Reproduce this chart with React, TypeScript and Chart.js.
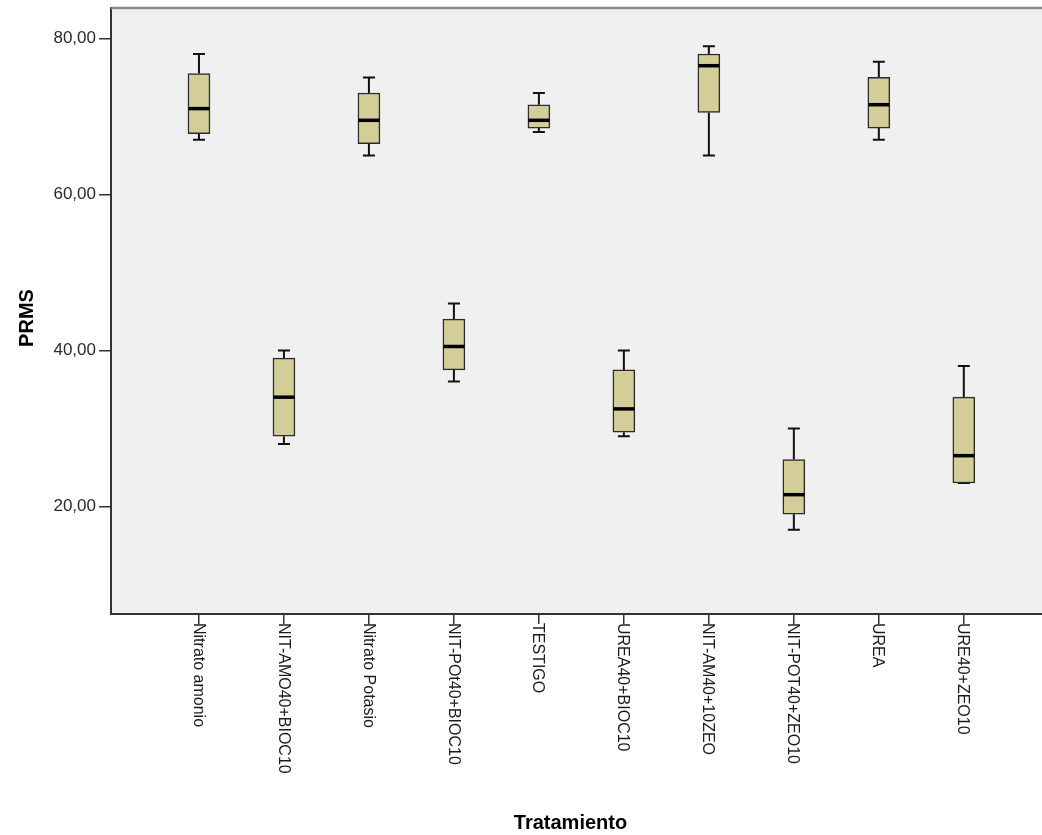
import React, { useEffect, useRef } from "react";
import { Chart, registerables } from "chart.js";

Chart.register(...registerables);

const categories = [
  "Nitrato amonio",
  "NIT-AMO40+BIOC10",
  "Nitrato Potasio",
  "NIT-POt40+BIOC10",
  "TESTIGO",
  "UREA40+BIOC10",
  "NIT-AM40+10ZEO",
  "NIT-POT40+ZEO10",
  "UREA",
  "URE40+ZEO10",
];
const minValues = [67, 28, 65, 36, 68, 29, 65, 17, 67, 23];
const q1Values = [67.8, 29, 66.5, 37.5, 68.5, 29.5, 70.5, 19, 68.5, 23];
const medianValues = [71, 34, 69.5, 40.5, 69.5, 32.5, 76.5, 21.5, 71.5, 26.5];
const q3Values = [75.5, 39, 73, 44, 71.5, 37.5, 78, 26, 75, 34];
const maxValues = [78, 40, 75, 46, 73, 40, 79, 30, 77, 38];
const yTicks = [20, 40, 60, 80];

const FONT = "'Liberation Sans', Arial, sans-serif";

export default function App() {
  const canvasRef = useRef<HTMLCanvasElement | null>(null);

  useEffect(() => {
    const canvas = canvasRef.current;
    if (!canvas) return;

    const boxPlugin = {
      id: "boxPlugin",
      beforeDraw(chart: any) {
        const { ctx, chartArea } = chart;
        ctx.save();
        ctx.fillStyle = "#ffffff";
        ctx.fillRect(0, 0, chart.width, chart.height);
        ctx.fillStyle = "#f0f0f0";
        ctx.fillRect(chartArea.left, chartArea.top, chartArea.right - chartArea.left, chartArea.bottom - chartArea.top);
        ctx.restore();
      },
      beforeDatasetsDraw(chart: any) {
        const { ctx } = chart;
        const xs = chart.scales.x;
        const ys = chart.scales.y;
        ctx.save();
        ctx.strokeStyle = "#111111";
        ctx.lineWidth = 2;
        for (let i = 0; i < categories.length; i++) {
          const x = xs.getPixelForValue(i);
          const yMin = ys.getPixelForValue(minValues[i]);
          const yMax = ys.getPixelForValue(maxValues[i]);
          const yQ1 = ys.getPixelForValue(q1Values[i]);
          const yQ3 = ys.getPixelForValue(q3Values[i]);
          ctx.beginPath();
          ctx.moveTo(x, yQ3);
          ctx.lineTo(x, yMax);
          ctx.moveTo(x, yQ1);
          ctx.lineTo(x, yMin);
          ctx.moveTo(x - 6, yMax);
          ctx.lineTo(x + 6, yMax);
          ctx.moveTo(x - 6, yMin);
          ctx.lineTo(x + 6, yMin);
          ctx.stroke();
        }
        ctx.restore();
      },
      afterDatasetsDraw(chart: any) {
        const { ctx } = chart;
        const xs = chart.scales.x;
        const ys = chart.scales.y;
        ctx.save();
        ctx.strokeStyle = "#000000";
        ctx.lineWidth = 3.5;
        for (let i = 0; i < categories.length; i++) {
          const x = xs.getPixelForValue(i);
          const yMed = ys.getPixelForValue(medianValues[i]);
          ctx.beginPath();
          ctx.moveTo(x - 10.5, yMed);
          ctx.lineTo(x + 10.5, yMed);
          ctx.stroke();
        }
        ctx.restore();
      },
      afterDraw(chart: any) {
        const { ctx, chartArea } = chart;
        const xs = chart.scales.x;
        ctx.save();
        // top border
        ctx.strokeStyle = "#8a8a8a";
        ctx.lineWidth = 2.5;
        ctx.beginPath();
        ctx.moveTo(chartArea.left, chartArea.top);
        ctx.lineTo(chartArea.right, chartArea.top);
        ctx.stroke();
        // category labels
        ctx.fillStyle = "#1a1a1a";
        ctx.font = `16px ${FONT}`;
        ctx.textAlign = "left";
        ctx.textBaseline = "middle";
        for (let i = 0; i < categories.length; i++) {
          const x = xs.getPixelForValue(i);
          ctx.save();
          ctx.translate(x - 1, chartArea.bottom + 9);
          ctx.rotate(Math.PI / 2);
          ctx.fillText(categories[i], 0, 0);
          ctx.restore();
        }
        // axis titles
        ctx.fillStyle = "#000000";
        ctx.font = `bold 20px ${FONT}`;
        ctx.textAlign = "center";
        ctx.textBaseline = "alphabetic";
        ctx.fillText("Tratamiento", (chartArea.left + chartArea.right) / 2 - 6, 829);
        ctx.save();
        ctx.translate(33, 318);
        ctx.rotate(-Math.PI / 2);
        ctx.fillText("PRMS", 0, 0);
        ctx.restore();
        ctx.restore();
      },
    };

    const chart = new Chart(canvas, {
      type: "bar",
      data: {
        datasets: [
          {
            label: "PRMS",
            data: categories.map((_, i) => ({ x: i, y: [q1Values[i], q3Values[i]] })) as any,
            backgroundColor: "#d3ce97",
            borderColor: "#2b2b2b",
            borderWidth: 1.5,
            borderSkipped: false,
            barThickness: 22,
          },
        ],
      },
      options: {
        animation: false,
        responsive: false,
        events: [],
        layout: { padding: { top: 8, left: 0, right: 0, bottom: 0 } },
        plugins: {
          legend: { display: false },
          tooltip: { enabled: false },
          title: { display: false },
        },
        scales: {
          x: {
            type: "linear",
            offset: false,
            min: -1.035,
            max: 9.92,
            afterBuildTicks(scale: any) {
              scale.ticks = categories.map((_, i) => ({ value: i }));
            },
            afterFit(scale: any) {
              scale.height = 221;
              scale.paddingLeft = 0;
              scale.paddingRight = 0;
            },
            ticks: { display: false },
            grid: {
              offset: false,
              drawOnChartArea: false,
              drawTicks: true,
              tickLength: 10,
              color: "#333333",
              lineWidth: 1.5,
            },
            border: { display: true, color: "#333333", width: 2 },
          },
          y: {
            type: "linear",
            min: 6.2,
            max: 83.9,
            afterBuildTicks(scale: any) {
              scale.ticks = yTicks.map((v) => ({ value: v }));
            },
            afterFit(scale: any) {
              scale.width = 111;
              scale.paddingTop = 0;
              scale.paddingBottom = 0;
            },
            ticks: {
              padding: 3,
              color: "#2a2a2a",
              font: { family: FONT, size: 17 },
              callback: (v: any) => Number(v).toFixed(2).replace(".", ","),
            },
            grid: {
              drawOnChartArea: false,
              drawTicks: true,
              tickLength: 12,
              color: "#333333",
              lineWidth: 1.5,
            },
            border: { display: true, color: "#333333", width: 2 },
          },
        },
      },
      plugins: [boxPlugin],
    });

    return () => {
      chart.destroy();
    };
  }, []);

  return (
    <div style={{ position: "absolute", left: 0, top: 0, width: 1042, height: 835 }}>
      <canvas ref={canvasRef} width={1042} height={835} style={{ display: "block" }} />
    </div>
  );
}
